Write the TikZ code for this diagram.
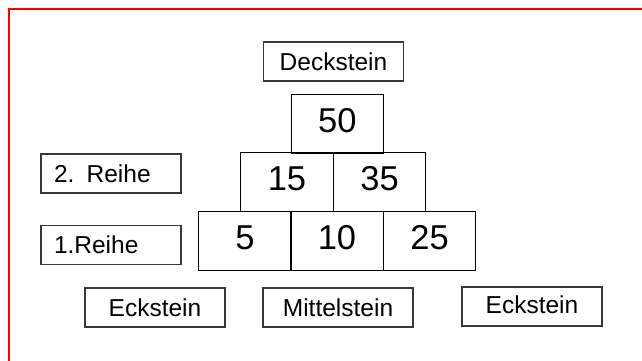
\documentclass[tikz,border=0pt]{standalone}
\usepackage{fontspec}
\setmainfont{Liberation Sans}
\begin{document}
\begin{tikzpicture}[x=1pt,y=-1pt,
  brick/.style={draw=black,line width=1pt,minimum width=92.5pt,minimum height=59pt,inner sep=0pt,
    font=\fontsize{34.5}{34.5}\selectfont,text depth=7pt},
  tag/.style={draw=black!78,line width=1.3pt,minimum height=39pt,inner sep=0pt,
    font=\fontsize{24.5}{24.5}\selectfont},
  rowtag/.style={tag,text width=114pt,align=left,inner xsep=13pt}
]
\useasboundingbox (0,0) rectangle (642,360);
\draw[red,line width=2pt] (9,361) -- (9,9) -- (643,9);
% labels
\node[tag,minimum width=140pt] (deck) at (333.5,61.5) {Deckstein};
\node[rowtag] (r2) at (111,173.5) {2. Reihe};
\node[rowtag] (r1) at (111,245) {1.Reihe};
\node[tag,minimum width=140pt] (eckl) at (155,307.5) {Eckstein};
\node[tag,minimum width=150pt] (mitte) at (338,307.5) {Mittelstein};
\node[tag,minimum width=140pt,text depth=3pt] (eckr) at (532,306.5) {Eckstein};
% pyramid
\node[brick] (b50) at (337.25,123.5) {50};
\node[brick] (b15) at (287,182.25) {15};
\node[brick] (b35) at (379.5,182.25) {35};
\node[brick] (b5) at (245,241.25) {5};
\node[brick] (b10) at (337,241.25) {10};
\node[brick] (b25) at (429.5,241.25) {25};
\end{tikzpicture}
\end{document}
